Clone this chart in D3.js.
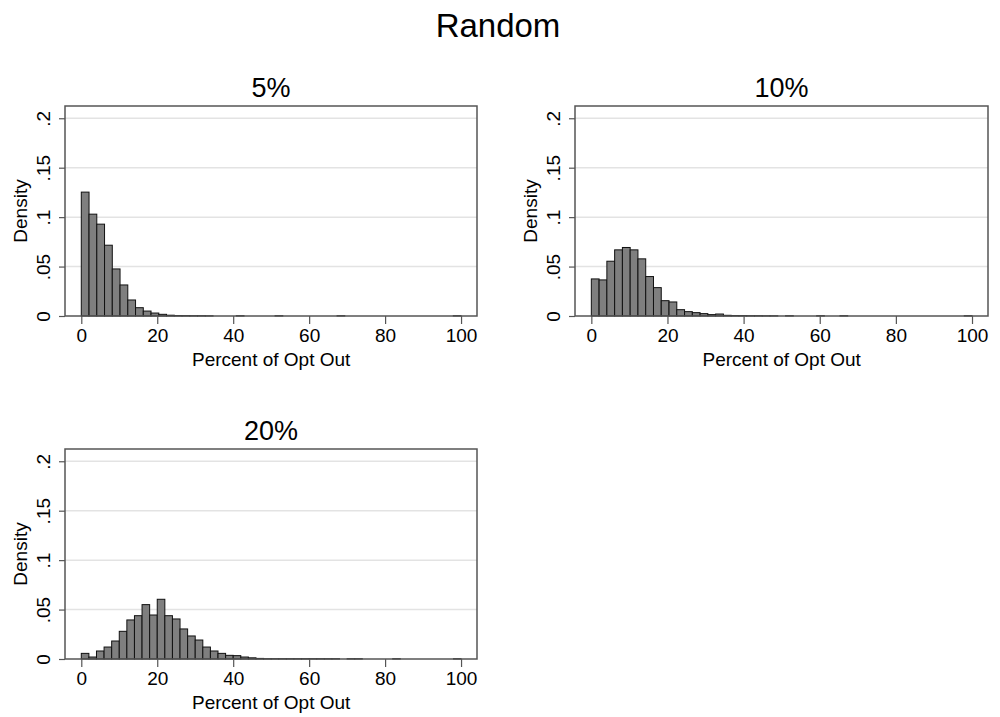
<!DOCTYPE html>
<html>
<head>
<meta charset="utf-8">
<script src="https://cdn.jsdelivr.net/npm/d3@7"></script>
<style>
  html, body { margin: 0; padding: 0; background: #fff; }
  svg { display: block; font-family: "Liberation Sans", Arial, Helvetica, sans-serif; }
</style>
</head>
<body>
<svg id="chart" width="1000" height="717"></svg>
<script>
// ---- Data (densities) ----
const mainTitle = "Random";
const panelTitles = ["5%", "10%", "20%"];
const xTicks = [0, 20, 40, 60, 80, 100];
const yTicks = [0, 0.05, 0.1, 0.15, 0.2];
const yTickLabels = ["0", ".05", ".1", ".15", ".2"];
const xLabel = "Percent of Opt Out";
const yLabel = "Density";

// bin widths (percentage points) per panel
const binWidths = [2.0408, 2.0408, 2.0];

// 5% panel: 49 bins
const density5 = [
  0.1253, 0.1030, 0.0929, 0.0716, 0.0476, 0.0314, 0.0162, 0.0084, 0.0050, 0.0030,
  0.0017, 0.0008, 0.0005, 0.0004, 0.0003, 0.0003, 0.0002, 0, 0, 0,
  0.0003, 0, 0, 0, 0, 0.0003, 0, 0, 0, 0,
  0, 0, 0, 0.0003, 0, 0, 0, 0, 0, 0,
  0, 0, 0, 0, 0, 0, 0, 0, 0.0003
];
// 10% panel: 49 bins
const density10 = [
  0.0375, 0.0365, 0.0554, 0.0669, 0.0693, 0.0669, 0.0578, 0.0399, 0.0287, 0.0155,
  0.0142, 0.0064, 0.0044, 0.0034, 0.0024, 0.0014, 0.0020, 0.0007, 0.0005, 0.0004,
  0.0003, 0.0003, 0.0002, 0.0002, 0, 0.0003, 0, 0, 0, 0.0003,
  0, 0, 0.0003, 0, 0, 0, 0, 0, 0, 0,
  0, 0, 0, 0, 0, 0, 0, 0, 0.0003
];
// 20% panel: 50 bins
const density20 = [
  0.0057, 0.0020, 0.0081, 0.0121, 0.0182, 0.0280, 0.0395, 0.0438, 0.0550, 0.0445,
  0.0604, 0.0438, 0.0405, 0.0304, 0.0233, 0.0192, 0.0121, 0.0081, 0.0057, 0.0037,
  0.0034, 0.0020, 0.0012, 0.0006, 0.0003, 0.0003, 0.0003, 0.0003, 0.0003, 0.0003,
  0.0003, 0.0003, 0.0003, 0.0003, 0, 0.0003, 0.0003, 0, 0, 0,
  0, 0.0003, 0, 0, 0, 0, 0, 0, 0, 0.0003
];
const panelData = [density5, density10, density20];

// ---- Layout ----
const svg = d3.select("#chart");
const boxes = [
  { x0: 65, x1: 477, y0: 106, y1: 316 },
  { x0: 575, x1: 988, y0: 106, y1: 316 },
  { x0: 65, x1: 477, y0: 449, y1: 659 }
];
const xDomain = [-4.29, 104.2];
const yDomain = [0, 0.2124];

svg.append("text")
  .attr("x", 498).attr("y", 37)
  .attr("text-anchor", "middle")
  .attr("font-size", 33)
  .attr("fill", "#000")
  .text(mainTitle);

panelData.forEach((vals, i) => {
  const b = boxes[i];
  const g = svg.append("g");
  const x = d3.scaleLinear().domain(xDomain).range([b.x0, b.x1]);
  const y = d3.scaleLinear().domain(yDomain).range([b.y1, b.y0]);
  const w = binWidths[i];

  // grid lines
  g.selectAll("line.grid").data(yTicks.slice(1)).join("line")
    .attr("class", "grid")
    .attr("x1", b.x0).attr("x2", b.x1)
    .attr("y1", d => y(d)).attr("y2", d => y(d))
    .attr("stroke", "#e3e3e3").attr("stroke-width", 1.5);

  // bars
  g.selectAll("rect.bar").data(vals).join("rect")
    .attr("class", "bar")
    .attr("x", (d, k) => x(k * w))
    .attr("width", (d, k) => x((k + 1) * w) - x(k * w))
    .attr("y", d => y(d))
    .attr("height", d => y(0) - y(d))
    .attr("fill", "#7f7f7f")
    .attr("stroke", "#111")
    .attr("stroke-width", 1);

  // plot box
  g.append("rect")
    .attr("x", b.x0).attr("y", b.y0)
    .attr("width", b.x1 - b.x0).attr("height", b.y1 - b.y0)
    .attr("fill", "none").attr("stroke", "#555").attr("stroke-width", 1.5);

  // x axis
  const xAxis = d3.axisBottom(x).tickValues(xTicks).tickSize(8).tickPadding(5).tickFormat(d3.format("d"));
  const gx = g.append("g").attr("transform", `translate(0,${b.y1})`).call(xAxis);
  gx.select(".domain").remove();
  gx.selectAll(".tick line").attr("stroke", "#555").attr("stroke-width", 1.2);
  gx.selectAll(".tick text").attr("font-size", 19).attr("fill", "#000")
    .attr("font-family", "Liberation Sans, Arial, sans-serif");

  // y axis
  const yAxis = d3.axisLeft(y).tickValues(yTicks).tickSize(6).tickFormat((d, k) => yTickLabels[k]);
  const gy = g.append("g").attr("transform", `translate(${b.x0},0)`).call(yAxis);
  gy.select(".domain").remove();
  gy.selectAll(".tick line").attr("stroke", "#555").attr("stroke-width", 1.2);
  gy.selectAll(".tick text")
    .attr("font-size", 19).attr("fill", "#000")
    .attr("font-family", "Liberation Sans, Arial, sans-serif")
    .attr("x", null).attr("dy", null)
    .attr("text-anchor", "middle")
    .attr("transform", "translate(-22,0) rotate(-90)")
    .attr("y", 0)
    .attr("dy", "0.35em");

  // axis titles
  g.append("text")
    .attr("x", (x(0) + x(100)) / 2).attr("y", b.y1 + 50)
    .attr("text-anchor", "middle").attr("font-size", 19).attr("fill", "#000")
    .text(xLabel);
  g.append("text")
    .attr("transform", `translate(${b.x0 - 45},${(b.y0 + b.y1) / 2}) rotate(-90)`)
    .attr("dy", "0.35em")
    .attr("text-anchor", "middle").attr("font-size", 19).attr("fill", "#000")
    .text(yLabel);

  // panel title
  g.append("text")
    .attr("x", (b.x0 + b.x1) / 2 + (i === 1 ? 0 : 0)).attr("y", b.y0 - 9)
    .attr("text-anchor", "middle").attr("font-size", 27).attr("fill", "#000")
    .text(panelTitles[i]);
});
</script>
</body>
</html>
